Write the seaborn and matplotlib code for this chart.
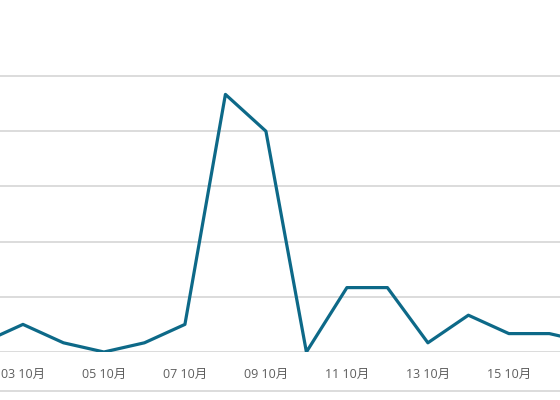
import matplotlib
matplotlib.use("Agg")
import matplotlib.dates as mdates
import matplotlib.pyplot as plt
import pandas as pd
import seaborn as sns
from matplotlib.lines import Line2D

sns.set_style("white")
plt.rcParams["font.family"] = ["Open Sans", "Noto Sans CJK SC", "DejaVu Sans"]

# daily counts, 2-17 October
dates = pd.date_range("2023-10-02", "2023-10-17", freq="D")
counts = [1, 3, 1, 0, 1, 3, 28, 24, 0, 7, 7, 1, 4, 2, 2, 1]
grid_ticks = [0, 6, 12, 18, 24, 30]

df = pd.DataFrame({"date": dates, "count": counts})

fig = plt.figure(figsize=(5.6, 4), dpi=100)
ax = fig.add_axes([0, 0.12, 1, 0.88])

sns.lineplot(data=df, x="date", y="count", ax=ax, color="#0d6988", linewidth=2.3)

ax.set_xlim(pd.Timestamp("2023-10-02") + pd.Timedelta(hours=10.4),
            pd.Timestamp("2023-10-16") + pd.Timedelta(hours=6.3))
ax.set_ylim(0, 38.26)
ax.set_yticks(grid_ticks)
ax.yaxis.grid(True, color="#d9d9d9", linewidth=1.3)
ax.set_axisbelow(True)
ax.tick_params(axis="y", left=False, labelleft=False)

ax.xaxis.set_major_locator(mdates.DayLocator(bymonthday=[3, 5, 7, 9, 11, 13, 15]))
ax.xaxis.set_major_formatter(mdates.DateFormatter("%d %m月"))
ax.tick_params(axis="x", bottom=False, pad=8, labelsize=9, labelcolor="#5e5e5e")

ax.set_xlabel("")
ax.set_ylabel("")
for s in ax.spines.values():
    s.set_visible(False)

fig.add_artist(Line2D([0, 1], [0.0225, 0.0225], transform=fig.transFigure,
                      color="#d9d9d9", linewidth=1.3))

fig.savefig("out.png", dpi=100)
